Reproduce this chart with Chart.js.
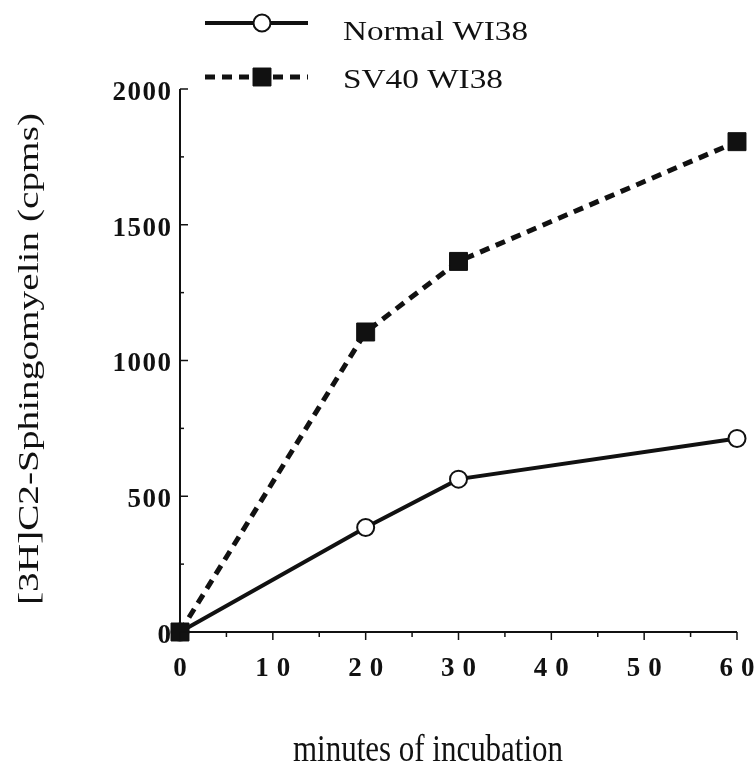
<!DOCTYPE html>
<html>
<head>
<meta charset="utf-8">
<script src="https://cdn.jsdelivr.net/npm/chart.js@4.4.1/dist/chart.umd.min.js"></script>
<style>
  html, body { margin: 0; padding: 0; background: #fff; }
  canvas { display: block; }
</style>
</head>
<body>
<canvas id="chart" width="755" height="765"></canvas>
<script>
// values
const minutes = [0, 20, 30, 60];
const normalWI38 = [0, 385, 563, 713];
const sv40WI38 = [0, 1105, 1365, 1806];
const seriesNames = ['Normal WI38', 'SV40 WI38'];
const yTitle = '[3H]C2-Sphingomyelin (cpms)';
const xTitle = 'minutes of incubation';

const INK = '#111';
const SERIF = '"Liberation Serif", "DejaVu Serif", serif';

// draw text squeezed/stretched to a given width (the scan is not uniform)
function fitText(ctx, text, x, y, size, width, sy, weight) {
    ctx.save();
    ctx.font = (weight || 'normal') + ' ' + size + 'px ' + SERIF;
    const w = ctx.measureText(text).width;
    ctx.translate(x, y);
    ctx.scale(width / w, sy || 1);
    ctx.fillText(text, 0, 0);
    ctx.restore();
}

const figurePlugin = {
    id: 'figure',
    afterDraw(chart) {
        const ctx = chart.ctx;
        const xs = chart.scales.x, ys = chart.scales.y;
        const { left, right, top, bottom } = chart.chartArea;

        ctx.save();
        ctx.strokeStyle = INK;
        ctx.fillStyle = INK;
        ctx.lineWidth = 2;
        ctx.setLineDash([]);

        // axes
        ctx.beginPath();
        ctx.moveTo(left, top);
        ctx.lineTo(left, bottom);
        ctx.lineTo(right, bottom);
        ctx.stroke();

        // y ticks point inward, x ticks point down
        ctx.lineWidth = 1.5;
        ys.ticks.forEach(t => {
            const py = ys.getPixelForValue(t.value);
            const len = t.value % 500 === 0 ? 8 : 4;
            ctx.beginPath();
            ctx.moveTo(left, py);
            ctx.lineTo(left + len, py);
            ctx.stroke();
        });
        xs.ticks.forEach(t => {
            const px = xs.getPixelForValue(t.value);
            const len = t.value % 10 === 0 ? 8 : 5;
            ctx.beginPath();
            ctx.moveTo(px, bottom);
            ctx.lineTo(px, bottom + len);
            ctx.stroke();
        });

        // tick labels
        ctx.textBaseline = 'middle';
        ctx.textAlign = 'right';
        ctx.font = 'bold 27px ' + SERIF;
        ctx.letterSpacing = '1.5px';
        ys.ticks.forEach(t => {
            if (t.value % 500 !== 0) return;
            ctx.fillText(String(t.value), left - 9 + 1.5, ys.getPixelForValue(t.value) + 4);
        });
        ctx.textAlign = 'center';
        ctx.letterSpacing = '8px';
        xs.ticks.forEach(t => {
            if (t.value % 10 !== 0) return;
            ctx.fillText(String(t.value), xs.getPixelForValue(t.value) + 4, bottom + 37);
        });
        ctx.letterSpacing = '0px';

        // axis titles
        ctx.textAlign = 'left';
        ctx.textBaseline = 'alphabetic';
        fitText(ctx, xTitle, 293, 761, 30, 270, 1.25);
        ctx.save();
        ctx.translate(38, 605);
        ctx.rotate(-Math.PI / 2);
        fitText(ctx, yTitle, 0, 0, 29, 492, 1);
        ctx.restore();

        // legend
        const rows = [{ y: 23, text: 40 }, { y: 77, text: 88 }];
        const widths = [185, 160];
        chart.data.datasets.forEach((ds, i) => {
            const r = rows[i];
            ctx.strokeStyle = INK;
            ctx.lineWidth = ds.borderWidth;
            ctx.setLineDash(ds.borderDash || []);
            ctx.beginPath();
            ctx.moveTo(205, r.y);
            ctx.lineTo(308, r.y);
            ctx.stroke();
            ctx.setLineDash([]);
            ctx.fillStyle = ds.pointBackgroundColor;
            ctx.strokeStyle = ds.pointBorderColor;
            ctx.lineWidth = ds.pointBorderWidth;
            Chart.helpers.drawPoint(ctx, {
                pointStyle: ds.pointStyle, rotation: 0,
                radius: ds.pointRadius, borderWidth: ds.pointBorderWidth
            }, 262, r.y);
            ctx.fillStyle = INK;
            fitText(ctx, ds.label, 343, r.text, 27, widths[i], 1.05);
        });
        ctx.restore();
    }
};

new Chart(document.getElementById('chart').getContext('2d'), {
    type: 'line',
    data: {
        labels: minutes,
        datasets: [
            {
                label: seriesNames[0],
                data: minutes.map((m, i) => ({ x: m, y: normalWI38[i] })),
                borderColor: INK,
                borderWidth: 4,
                pointStyle: 'circle',
                pointRadius: 8.5,
                pointBackgroundColor: '#fff',
                pointBorderColor: INK,
                pointBorderWidth: 2,
                tension: 0,
                order: 1,
                clip: false
            },
            {
                label: seriesNames[1],
                data: minutes.map((m, i) => ({ x: m, y: sv40WI38[i] })),
                borderColor: INK,
                borderWidth: 5,
                borderDash: [10, 7],
                pointStyle: 'rect',
                pointRadius: 12.7,
                pointBackgroundColor: INK,
                pointBorderColor: INK,
                pointBorderWidth: 1,
                tension: 0,
                order: 0,
                clip: false
            }
        ]
    },
    options: {
        responsive: false,
        animation: false,
        devicePixelRatio: 1,
        layout: { padding: { left: 0, top: 89, right: 18, bottom: 0 } },
        plugins: { legend: { display: false }, tooltip: { enabled: false } },
        scales: {
            x: {
                type: 'linear', min: 0, max: 60,
                ticks: { stepSize: 5, display: false },
                grid: { display: false },
                border: { display: false },
                afterFit: s => { s.height = 133; }
            },
            y: {
                type: 'linear', min: 0, max: 2000,
                ticks: { stepSize: 250, display: false },
                grid: { display: false },
                border: { display: false },
                afterFit: s => { s.width = 180; }
            }
        }
    },
    plugins: [figurePlugin]
});
</script>
</body>
</html>
